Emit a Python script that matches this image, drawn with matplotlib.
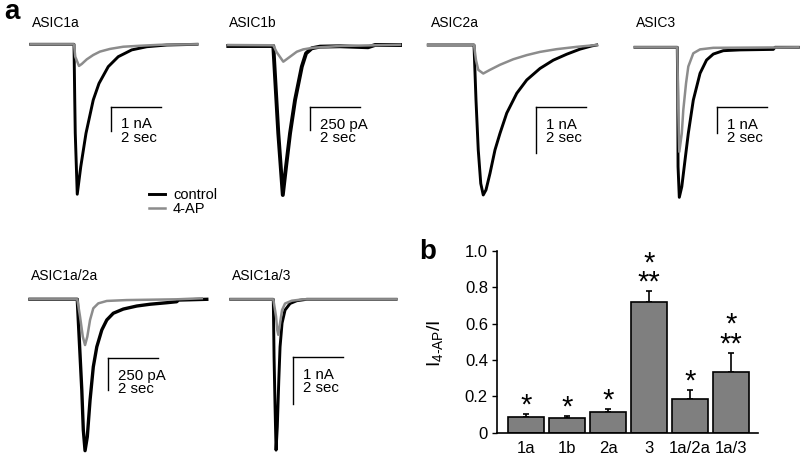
import matplotlib
matplotlib.use('Agg')
import matplotlib.pyplot as plt
from matplotlib.lines import Line2D

plt.rcParams['font.family'] = ['Liberation Sans', 'DejaVu Sans']
plt.rcParams['mathtext.fontset'] = 'custom'
plt.rcParams['mathtext.rm'] = 'Liberation Sans'
plt.rcParams['mathtext.it'] = 'Liberation Sans'
plt.rcParams['mathtext.default'] = 'regular'

W, H = 800, 455
BLACK = '#000000'
GRAY = '#8c8c8c'
BAR_GRAY = '#7f7f7f'
PX_PER_SEC = 25.0

# ---- panel a: example currents (time in s, current in nA or pA) ----
asic1a_ctl_t = [-1.73, 0, 0.03, 0.05, 0.13, 0.27, 0.48, 0.77, 1.0, 1.37, 1.77, 2.31, 2.91, 3.71, 4.92]
asic1a_ctl_i = [0, 0, -2.29, -3.65, -6.17, -5.04, -3.66, -2.29, -1.61, -0.92, -0.51, -0.23, -0.10, -0.03, 0]
asic1a_ap_t = [-1.73, 0, 0.05, 0.2, 0.31, 0.51, 0.77, 1.04, 1.44, 1.97, 2.64, 3.44, 4.92]
asic1a_ap_i = [0, 0, -0.51, -0.89, -0.81, -0.62, -0.44, -0.30, -0.19, -0.10, -0.06, -0.02, 0]

asic1b_ctl_t = [-1.8, 0, 0.2, 0.38, 0.51, 0.67, 0.87, 1.14, 1.31, 1.54, 1.87, 2.67, 3.79, 4.07, 5.07]
asic1b_ctl_i = [0, 0, -962, -1643, -1330, -962, -595, -228, -81, -25, -7, -3, -14, 11, 11]
asic1b_ap_t = [-1.8, 0, 0.13, 0.4, 0.67, 0.94, 1.2, 1.6, 2.67, 5.07]
asic1b_ap_i = [11, 8, -66, -173, -118, -63, -37, -19, 0, 14]

asic2a_ctl_t = [-1.83, 0, 0.08, 0.17, 0.27, 0.37, 0.48, 0.64, 0.84, 1.04, 1.31, 1.71, 2.11, 2.64,
                3.17, 3.71, 4.24, 4.71, 4.91]
asic2a_ctl_i = [0, 0, -1.20, -2.28, -3.01, -3.26, -3.15, -2.79, -2.28, -1.92, -1.48, -1.05, -0.76,
                -0.51, -0.33, -0.20, -0.09, -0.02, 0]
asic2a_ap_t = [-1.83, 0, 0.08, 0.17, 0.37, 0.64, 1.04, 1.57, 2.11, 2.64, 3.31, 4.11, 4.91]
asic2a_ap_i = [0, 0, -0.33, -0.54, -0.62, -0.54, -0.43, -0.31, -0.22, -0.15, -0.09, -0.04, 0]

asic3_ctl_t = [-1.69, 0, 0.02, 0.03, 0.08, 0.18, 0.31, 0.44, 0.64, 0.91, 1.17, 1.44, 1.84, 2.51, 3.84, 3.91, 4.84]
asic3_ctl_i = [0, 0, -2.03, -4.59, -5.77, -5.36, -4.33, -3.31, -2.03, -1.0, -0.49, -0.26, -0.13, -0.10,
               -0.08, 0, 0]
asic3_ap_t = [-1.69, 0, 0.03, 0.08, 0.18, 0.24, 0.35, 0.44, 0.64, 0.91, 1.44, 4.84]
asic3_ap_i = [0, 0, -2.03, -4.02, -3.31, -2.41, -1.38, -0.74, -0.23, -0.08, -0.02, 0]

asic1a2a_ctl_t = [-1.89, 0, 0.08, 0.18, 0.24, 0.31, 0.40, 0.51, 0.64, 0.78, 0.98, 1.18, 1.44, 1.84,
                  2.38, 2.91, 3.58, 3.98, 4.04, 5.18]
asic1a2a_ctl_i = [0, 0, -321, -716, -1031, -1195, -1085, -796, -533, -375, -242, -163, -110, -77,
                  -53, -39, -27, -19, -6, 0]
asic1a2a_ap_t = [-1.89, 0, 0.11, 0.22, 0.31, 0.40, 0.51, 0.64, 0.84, 1.18, 1.98, 3.98, 4.98]
asic1a2a_ap_i = [0, 0, -137, -295, -361, -295, -163, -71, -32, -13, -6, 0, 8]

asic1a3_ctl_t = [-1.70, 0, 0.03, 0.07, 0.11, 0.16, 0.22, 0.27, 0.35, 0.47, 0.67, 0.94, 1.34, 4.91]
asic1a3_ctl_i = [0, 0, -1.23, -2.30, -3.23, -2.73, -1.73, -1.02, -0.51, -0.23, -0.09, -0.03, 0, 0]
asic1a3_ap_t = [-1.70, 0, 0.11, 0.16, 0.2, 0.27, 0.35, 0.47, 0.74, 1.2, 4.91]
asic1a3_ap_i = [0, 0, -0.37, -0.66, -0.76, -0.51, -0.23, -0.09, -0.03, 0, 0]

# ---- panel b: I(4-AP)/I ----
groups = ['1a', '1b', '2a', '3', '1a/2a', '1a/3']
ratio = [0.084, 0.079, 0.115, 0.716, 0.185, 0.335]
sem = [0.019, 0.014, 0.015, 0.061, 0.049, 0.105]
stars = ['*', '*', '*', '*\n**', '*', '*\n**']

fig = plt.figure(figsize=(W / 100, H / 100), dpi=100)


def px_text(x, y, s, **kw):
    fig.text(x / W, 1 - y / H, s, **kw)


def trace_axes(x_on, y_base, ppu):
    # axes placed so that onset / baseline land on the given pixel
    left, right = x_on - 48, x_on + 128
    top, bottom = y_base - 20, y_base + 158
    ax = fig.add_axes([left / W, 1 - bottom / H, (right - left) / W, (bottom - top) / H])
    ax.set_xlim((left - x_on) / PX_PER_SEC, (right - x_on) / PX_PER_SEC)
    ax.set_ylim(-(bottom - y_base) / ppu, (y_base - top) / ppu)
    ax.axis('off')
    return ax


# title, title pos (px), onset/baseline (px), px per unit, bar amplitude, bar label, bar corner (s, unit), traces
panels = [
    ('ASIC1a', (32, 23), (74, 44.3), 24.3, 1, '1 nA', (1.48, -2.58),
     (asic1a_ctl_t, asic1a_ctl_i, asic1a_ap_t, asic1a_ap_i), 2.1),
    ('ASIC1b', (229, 23), (273.3, 46), 0.0907, 250, '250 pA', (1.47, -676),
     (asic1b_ctl_t, asic1b_ctl_i, asic1b_ap_t, asic1b_ap_i), 2.8),
    ('ASIC2a', (431, 23), (474, 45), 46, 1, '1 nA', (2.48, -1.35),
     (asic2a_ctl_t, asic2a_ctl_i, asic2a_ap_t, asic2a_ap_i), 2.1),
    ('ASIC3', (636, 23), (677.3, 47.3), 26, 1, '1 nA', (1.6, -2.31),
     (asic3_ctl_t, asic3_ctl_i, asic3_ap_t, asic3_ap_i), 2.1),
    ('ASIC1a/2a', (31, 276), (77.3, 299.3), 0.1267, 250, '250 pA', (1.24, -466),
     (asic1a2a_ctl_t, asic1a2a_ctl_i, asic1a2a_ap_t, asic1a2a_ap_i), 2.4),
    ('ASIC1a/3', (232, 276), (273.3, 299.3), 46.7, 1, '1 nA', (0.8, -1.24),
     (asic1a3_ctl_t, asic1a3_ctl_i, asic1a3_ap_t, asic1a3_ap_i), 2.1),
]

for title, tpos, (x_on, y_base), ppu, amp, amp_lbl, (tc, ic), (ct, ci, at, ai), lw in panels:
    ax = trace_axes(x_on, y_base, ppu)
    ax.plot(ct, ci, color=BLACK, lw=lw, solid_joinstyle='round', clip_on=False)
    ax.plot(at, ai, color=GRAY, lw=1.8, solid_joinstyle='round', clip_on=False)
    # scale bar
    ax.plot([tc, tc], [ic, ic - amp], color=BLACK, lw=1.0, clip_on=False)
    ax.plot([tc, tc + 2], [ic, ic], color=BLACK, lw=1.0, clip_on=False)
    ax.annotate(amp_lbl + '\n2 sec', (tc, ic), xytext=(7, -7.5), textcoords='offset points',
                ha='left', va='top', fontsize=10.8, linespacing=0.92)
    px_text(tpos[0], tpos[1], title, fontsize=10, va='center', ha='left')

handles = [Line2D([], [], color=BLACK, lw=2.1), Line2D([], [], color=GRAY, lw=1.8)]
fig.legend(handles, ['control', '4-AP'], loc='upper left', bbox_to_anchor=(149 / W, 1 - 188 / H),
           frameon=False, fontsize=10.5, handlelength=1.1, handletextpad=0.55,
           labelspacing=0.0, borderpad=0, borderaxespad=0)

px_text(4, 12, 'a', fontsize=20, fontweight='bold', va='center', ha='left')
px_text(419, 252, 'b', fontsize=20, fontweight='bold', va='center', ha='left')

# ---- panel b ----
axb = fig.add_axes([497 / W, 1 - 432.7 / H, (758 - 497) / W, (432.7 - 250.7) / H])
x = range(len(groups))
axb.bar(x, ratio, width=0.87, color=BAR_GRAY, edgecolor=BLACK, linewidth=1.2, zorder=2)
axb.errorbar(x, ratio, yerr=[[0] * len(sem), sem], fmt='none', ecolor=BLACK,
             elinewidth=1.2, capsize=2.5, capthick=1.2, zorder=1)
for xi, r, s, lbl in zip(x, ratio, sem, stars):
    axb.annotate(lbl, (xi, r + s), xytext=(0, -4), textcoords='offset points',
                 ha='center', va='bottom', fontsize=21, linespacing=0.6)
axb.set_xlim(-0.71, 5.66)
axb.set_ylim(0, 1.0)
axb.set_yticks([0, 0.2, 0.4, 0.6, 0.8, 1.0])
axb.set_yticklabels(['0', '0.2', '0.4', '0.6', '0.8', '1.0'])
axb.set_xticks(list(x))
axb.set_xticklabels(groups)
axb.tick_params(axis='y', direction='out', length=3.5, width=1.0, labelsize=12, pad=3)
axb.tick_params(axis='x', length=0, labelsize=12, pad=6)
for side in ['top', 'right']:
    axb.spines[side].set_visible(False)
for side in ['left', 'bottom']:
    axb.spines[side].set_linewidth(1.2)
axb.set_ylabel(r'I$_{4\text{-}AP}$/I', fontsize=14)
axb.yaxis.set_label_coords(-0.2, 0.49)

fig.savefig('out.png', dpi=100)
